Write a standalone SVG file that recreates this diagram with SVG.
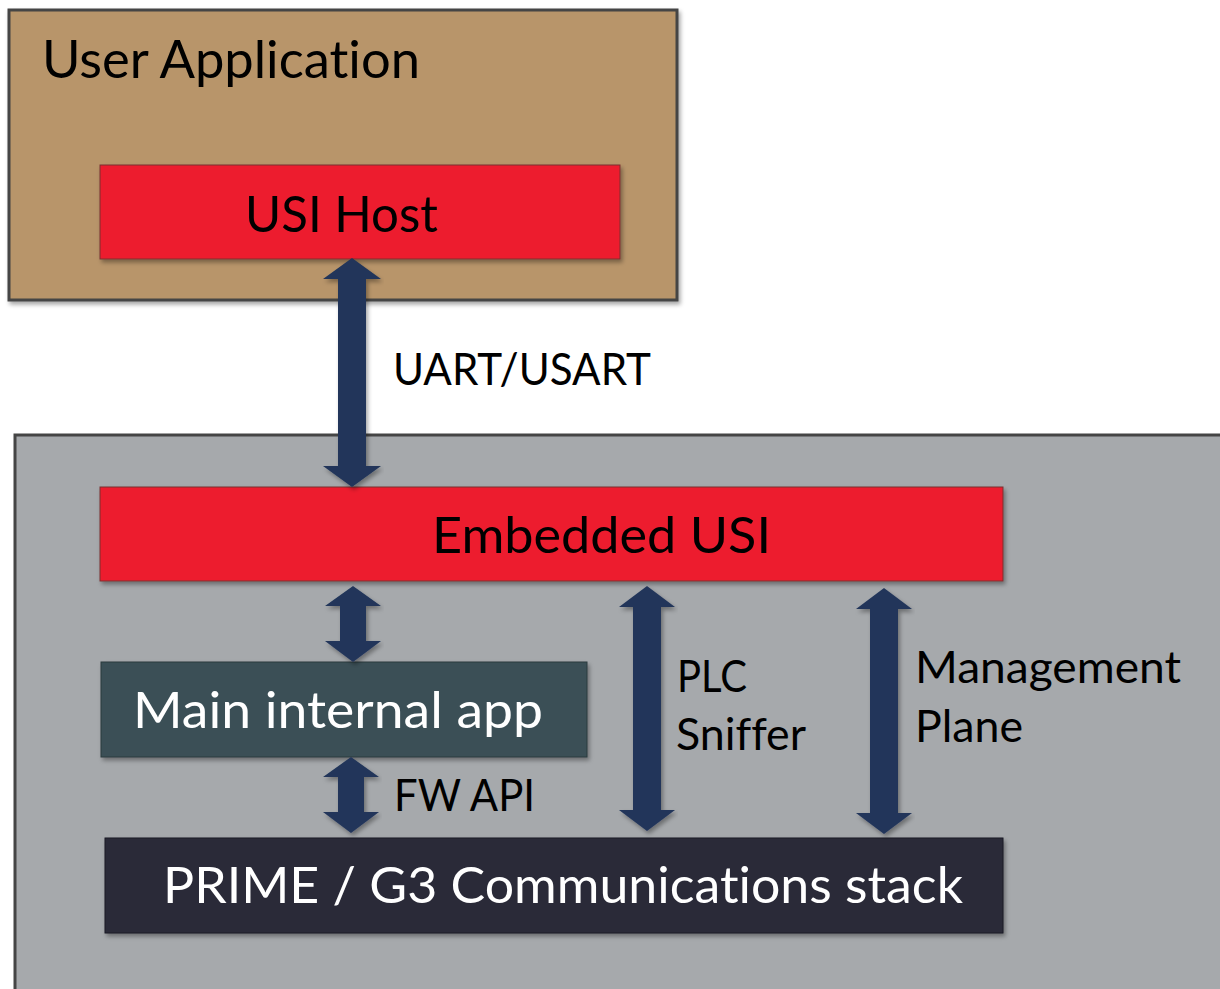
<svg xmlns="http://www.w3.org/2000/svg" width="1220" height="989" viewBox="0 0 1220 989">
<defs>
<filter id="sh" x="-5%" y="-5%" width="110%" height="115%">
<feDropShadow dx="2" dy="3" stdDeviation="2" flood-color="#000" flood-opacity="0.35"/>
</filter>
<style>
.t{font-family:Lato,"Open Sans","Liberation Sans",sans-serif;font-variant-ligatures:none;font-feature-settings:"liga" 0,"dlig" 0;}
.k{fill:#000;}
.w{fill:#fff;}
.arr{fill:#22365A;filter:url(#sh);}
</style>
</defs>
<rect width="1220" height="989" fill="#fff"/>
<g id="user-application">
<rect x="9" y="10" width="668" height="290" fill="#B8956A" stroke="#454545" stroke-width="3" filter="url(#sh)"/>
<text class="t k" x="42" y="78" font-size="52" textLength="378" lengthAdjust="spacingAndGlyphs">User Application</text>
</g>
<g id="usi-host">
<rect x="100" y="165" width="520" height="94" fill="#ED1B2F" stroke="#7a3030" stroke-width="1" filter="url(#sh)"/>
<text class="t k" x="245" y="232" font-size="50" textLength="193" lengthAdjust="spacingAndGlyphs">USI Host</text>
</g>
<g id="embedded-system">
<rect x="15" y="435" width="1210" height="560" fill="#A6A9AC" stroke="#454545" stroke-width="3"/>
</g>
<g id="embedded-usi">
<rect x="100" y="487" width="903" height="94" fill="#ED1B2F" stroke="#7a3030" stroke-width="1" filter="url(#sh)"/>
<text class="t k" x="432" y="553" font-size="50" textLength="339" lengthAdjust="spacingAndGlyphs">Embedded  USI</text>
</g>
<g id="main-internal-app">
<rect x="101" y="662" width="486" height="95" fill="#3A5056" stroke="#2a3a3e" stroke-width="1" filter="url(#sh)"/>
<text class="t w" x="133" y="728" font-size="50" textLength="410" lengthAdjust="spacingAndGlyphs">Main internal app</text>
</g>
<g id="prime-g3-stack">
<rect x="105" y="838" width="898" height="95" fill="#2A2B38" stroke="#1c1c26" stroke-width="1" filter="url(#sh)"/>
<text class="t w" x="163" y="903" font-size="50" textLength="800" lengthAdjust="spacingAndGlyphs">PRIME / G3 Communications stack</text>
</g>
<g id="connectors">
<path class="arr" d="M352,258 L381,279 L366,279 L366,466 L381,466 L352,487 L323,466 L338,466 L338,279 L323,279 Z"/>
<path class="arr" d="M353,586 L381,606 L366,606 L366,641 L381,641 L353,662 L325,641 L340,641 L340,606 L325,606 Z"/>
<path class="arr" d="M351,757 L379,777 L364,777 L364,812 L379,812 L351,833 L323,812 L338,812 L338,777 L323,777 Z"/>
<path class="arr" d="M647,586 L675,607 L661,607 L661,810 L675,810 L647,831 L619,810 L633,810 L633,607 L619,607 Z"/>
<path class="arr" d="M884,588 L912,609 L898,609 L898,813 L912,813 L884,834 L856,813 L870,813 L870,609 L856,609 Z"/>
</g>
<g id="labels">
<text class="t k" x="393" y="385" font-size="44" textLength="258" lengthAdjust="spacingAndGlyphs">UART/USART</text>
<text class="t k" x="394" y="811" font-size="44" textLength="141" lengthAdjust="spacingAndGlyphs">FW API</text>
<text class="t k" x="677" y="692" font-size="44" textLength="70" lengthAdjust="spacingAndGlyphs">PLC</text>
<text class="t k" x="676" y="750" font-size="44" textLength="130" lengthAdjust="spacingAndGlyphs">Sniffer</text>
<text class="t k" x="915" y="683" font-size="44" textLength="266" lengthAdjust="spacingAndGlyphs">Management</text>
<text class="t k" x="915" y="742" font-size="44" textLength="108" lengthAdjust="spacingAndGlyphs">Plane</text>
</g>
</svg>
